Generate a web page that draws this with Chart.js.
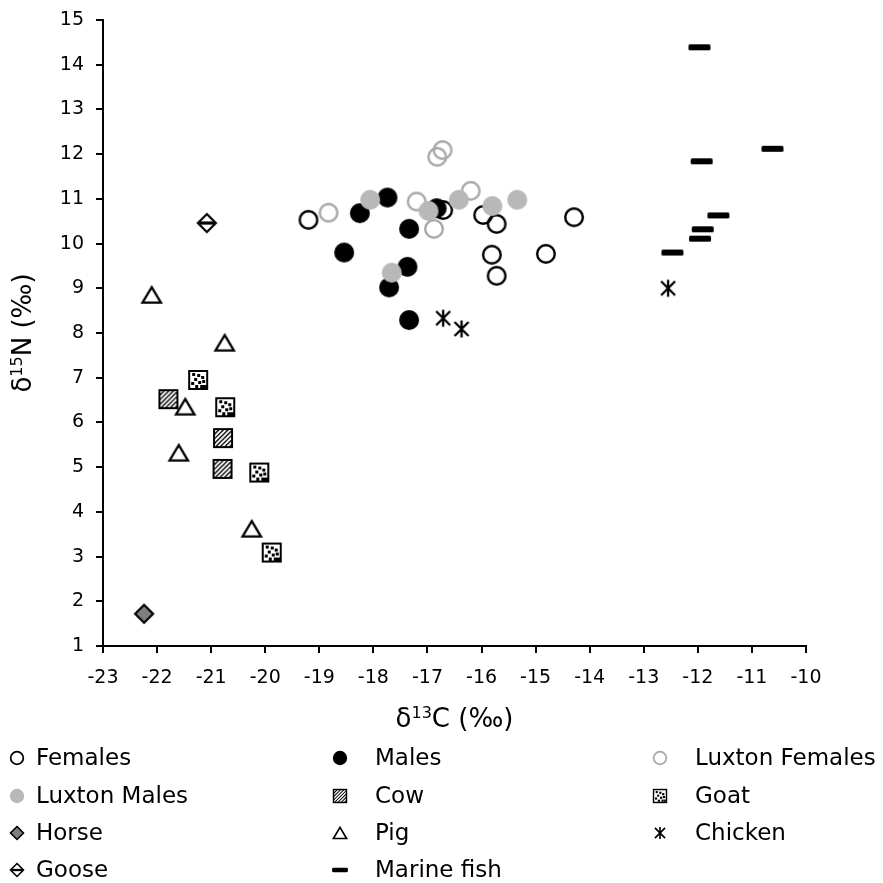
<!DOCTYPE html>
<html>
<head>
<meta charset="utf-8">
<script src="https://cdn.jsdelivr.net/npm/chart.js@4"></script>
<style>
  html, body { margin: 0; padding: 0; background: #fff; }
  #wrap { width: 883px; height: 883px; }
</style>
</head>
<body>
<div id="wrap"><canvas id="c" width="883" height="883"></canvas></div>
<script>
// δ13C / δ15N values (‰) per group, as [δ13C, δ15N]
const females = [[-19.20, 10.53], [-16.71, 10.75], [-15.97, 10.64], [-15.72, 10.44],
                 [-14.29, 10.59], [-15.81, 9.75], [-14.81, 9.77], [-15.72, 9.28]];
const males = [[-18.25, 10.68], [-17.74, 11.03], [-16.83, 10.79], [-17.34, 10.33],
               [-18.54, 9.80], [-17.37, 9.48], [-17.71, 9.02], [-17.34, 8.29]];
const luxtonFemales = [[-18.83, 10.69], [-17.20, 10.94], [-16.88, 10.33], [-16.20, 11.18],
                       [-16.72, 12.09], [-16.82, 11.94]];
const luxtonMales = [[-18.06, 10.98], [-16.98, 10.73], [-16.42, 10.98], [-15.80, 10.84],
                     [-15.34, 10.98], [-17.66, 9.35]];
const cow = [[-21.79, 6.52], [-20.78, 5.65], [-20.79, 4.96]];
const goat = [[-21.24, 6.95], [-20.74, 6.34], [-20.11, 4.88], [-19.88, 3.09]];
const horse = [[-22.24, 1.72]];
const pig = [[-22.10, 8.85], [-20.75, 7.78], [-21.48, 6.35], [-21.60, 5.32], [-20.25, 3.62]];
const chicken = [[-16.71, 8.33], [-16.37, 8.09], [-12.55, 9.00]];
const goose = [[-21.08, 10.46]];
const marineFish = [[-11.97, 14.39], [-10.62, 12.12], [-11.93, 11.84], [-11.62, 10.63],
                    [-11.91, 10.32], [-11.96, 10.11], [-12.47, 9.80]];

// Axis ranges and legend entries
const xRange = [-23, -10];
const yRange = [1, 15];
const legendNames = ['Females', 'Males', 'Luxton Females',
                     'Luxton Males', 'Cow', 'Goat',
                     'Horse', 'Pig', 'Chicken',
                     'Goose', 'Marine fish'];

const GRAY_LINE = '#a8a8a8';
const GRAY_FILL = '#b8b8b8';
const FONT = '"DejaVu Sans", Verdana, sans-serif';

// Marker painter: draws one symbol centred on (0,0), scaled by k
function drawMarker(ctx, kind, k) {
  ctx.save();
  ctx.scale(k, k);
  ctx.lineJoin = 'miter';
  const ring = (col) => {
    ctx.beginPath(); ctx.arc(0, 0, 8.8, 0, Math.PI * 2);
    ctx.lineWidth = 2.4; ctx.strokeStyle = col; ctx.stroke();
  };
  const disc = (col) => {
    ctx.beginPath(); ctx.arc(0, 0, 10, 0, Math.PI * 2);
    ctx.fillStyle = col; ctx.fill();
  };
  const diamond = (fill) => {
    ctx.beginPath();
    ctx.moveTo(0, -9); ctx.lineTo(9, 0); ctx.lineTo(0, 9); ctx.lineTo(-9, 0); ctx.closePath();
    ctx.fillStyle = fill; ctx.fill();
    ctx.lineWidth = 2.2; ctx.strokeStyle = '#000'; ctx.stroke();
  };
  switch (kind) {
    case 'Females': ring('#000'); break;
    case 'Males': disc('#000'); break;
    case 'Luxton Females': ring(GRAY_LINE); break;
    case 'Luxton Males': disc(GRAY_FILL); break;
    case 'Cow': {
      ctx.fillStyle = '#000'; ctx.fillRect(-10, -10, 20, 20);
      ctx.save();
      ctx.beginPath(); ctx.rect(-8, -8, 16, 16); ctx.clip();
      ctx.strokeStyle = '#fff'; ctx.lineWidth = 1.9;
      for (let d = -24; d <= 24; d += 4.6) {
        ctx.beginPath(); ctx.moveTo(d - 12, 12); ctx.lineTo(d + 12, -12); ctx.stroke();
      }
      ctx.restore();
      break;
    }
    case 'Goat': {
      ctx.fillStyle = '#000'; ctx.fillRect(-10, -10, 20, 20);
      ctx.fillStyle = '#fff'; ctx.fillRect(-8, -8, 16, 16);
      ctx.fillStyle = '#000';
      const dots = [[-6, -7], [-1, -6], [3, -4], [-4, -2], [4, 0], [-7, 2], [0, 1], [-3, 5], [2, 5], [5, 5]];
      dots.forEach(([a, b]) => ctx.fillRect(a, b, 3, 3));
      break;
    }
    case 'Horse': diamond('#7f7f7f'); break;
    case 'Goose': {
      diamond('#fff');
      ctx.fillStyle = '#000'; ctx.fillRect(-7.5, -1.6, 15, 3.2);
      break;
    }
    case 'Pig': {
      ctx.beginPath();
      ctx.moveTo(0, -7.8); ctx.lineTo(9.2, 7.6); ctx.lineTo(-9.2, 7.6); ctx.closePath();
      ctx.fillStyle = '#fff'; ctx.fill();
      ctx.lineWidth = 2.3; ctx.strokeStyle = '#000'; ctx.stroke();
      break;
    }
    case 'Chicken': {
      ctx.strokeStyle = '#000'; ctx.lineWidth = 2.3;
      ctx.beginPath();
      ctx.moveTo(-7, -7); ctx.lineTo(7, 7);
      ctx.moveTo(-7, 7); ctx.lineTo(7, -7);
      ctx.moveTo(0, -8.5); ctx.lineTo(0, 8.5);
      ctx.stroke();
      break;
    }
    case 'Marine fish': {
      ctx.fillStyle = '#000';
      ctx.beginPath(); ctx.roundRect(-11, -3, 22, 6, 1.5); ctx.fill();
      break;
    }
  }
  ctx.restore();
}

function markerImage(kind) {
  const cv = document.createElement('canvas');
  cv.width = 28; cv.height = 28;
  const g = cv.getContext('2d');
  g.translate(14, 14);
  drawMarker(g, kind, 1);
  return cv;
}

// Later groups sit on top of earlier ones
const groups = [
  ['Females', females], ['Males', males], ['Luxton Females', luxtonFemales],
  ['Luxton Males', luxtonMales], ['Cow', cow], ['Goat', goat], ['Horse', horse],
  ['Pig', pig], ['Chicken', chicken], ['Goose', goose], ['Marine fish', marineFish]
];

const datasets = groups.map(([name, pts], i) => ({
  label: name,
  data: pts.map(([x, y]) => ({ x, y })),
  pointStyle: markerImage(name),
  pointRadius: 10,
  pointHoverRadius: 10,
  showLine: false,
  clip: false,
  order: groups.length - i
}));

// Axis titles with superscripted isotope masses, and a three-column legend
const decorations = {
  id: 'decorations',
  afterDraw(chart) {
    const ctx = chart.ctx;
    const area = chart.chartArea;
    ctx.save();
    ctx.fillStyle = '#000';
    ctx.textBaseline = 'alphabetic';

    const drawIsoTitle = (mass, elem, cx, baseY) => {
      const big = '26px ' + FONT, small = '16px ' + FONT;
      ctx.font = big; const w1 = ctx.measureText('δ').width;
      ctx.font = small; const w2 = ctx.measureText(mass).width;
      ctx.font = big; const w3 = ctx.measureText(elem + ' (‰)').width;
      let x = cx - (w1 + w2 + w3) / 2;
      ctx.textAlign = 'left';
      ctx.font = big; ctx.fillText('δ', x, baseY); x += w1;
      ctx.font = small; ctx.fillText(mass, x, baseY - 9); x += w2;
      ctx.font = big; ctx.fillText(elem + ' (‰)', x, baseY);
    };

    drawIsoTitle('13', 'C', (area.left + area.right) / 2, 727);

    ctx.save();
    ctx.translate(31, (area.top + area.bottom) / 2);
    ctx.rotate(-Math.PI / 2);
    drawIsoTitle('15', 'N', 0, 0);
    ctx.restore();

    const colMarker = [17, 340, 660];
    const colText = [36, 375, 695];
    const rowY = [758, 796, 833, 870];
    ctx.font = '23px ' + FONT;
    ctx.textBaseline = 'middle';
    ctx.textAlign = 'left';
    legendNames.forEach((name, i) => {
      const r = Math.floor(i / 3), c = i % 3;
      ctx.save();
      ctx.translate(colMarker[c], rowY[r]);
      drawMarker(ctx, name, 0.72);
      ctx.restore();
      ctx.fillStyle = '#000';
      ctx.fillText(name, colText[c], rowY[r] + 1);
    });
    ctx.restore();
  }
};

const axisCommon = {
  type: 'linear',
  grid: { drawOnChartArea: false, drawTicks: true, tickLength: 7, color: '#000', lineWidth: 2 },
  border: { display: true, color: '#000', width: 2 },
  ticks: { stepSize: 1, color: '#000', font: { family: FONT, size: 19 } }
};

new Chart(document.getElementById('c'), {
  type: 'scatter',
  data: { datasets },
  options: {
    responsive: false,
    devicePixelRatio: 1,
    animation: false,
    layout: { padding: { left: 0, right: 77, top: 20, bottom: 197 } },
    plugins: { legend: { display: false }, tooltip: { enabled: false } },
    scales: {
      x: Object.assign({}, axisCommon, {
        min: xRange[0], max: xRange[1],
        ticks: Object.assign({}, axisCommon.ticks, { padding: 14, maxRotation: 0, callback: v => String(v) }),
        afterFit: s => { s.height = 40; s.paddingLeft = 0; s.paddingRight = 0; }
      }),
      y: Object.assign({}, axisCommon, {
        min: yRange[0], max: yRange[1],
        ticks: Object.assign({}, axisCommon.ticks, { padding: 12, callback: v => String(v) }),
        afterFit: s => { s.width = 103; s.paddingTop = 0; s.paddingBottom = 0; }
      })
    }
  },
  plugins: [decorations]
});
</script>
</body>
</html>
